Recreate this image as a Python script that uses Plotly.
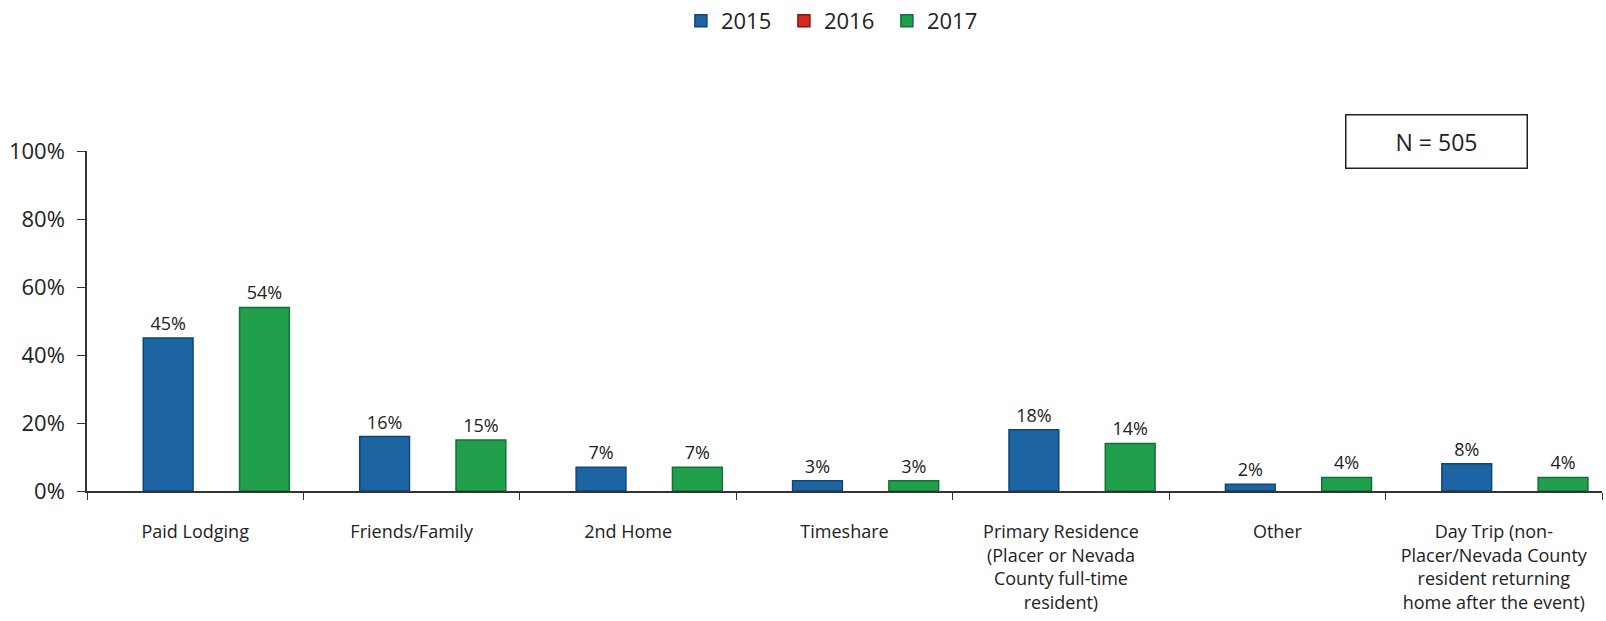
import plotly.graph_objects as go

categories = [
    "Paid Lodging",
    "Friends/Family",
    "2nd Home",
    "Timeshare",
    "Primary Residence<br>(Placer or Nevada<br>County full-time<br>resident)",
    "Other",
    "Day Trip (non-<br>Placer/Nevada County<br>resident returning<br>home after the event)",
]
values_2015 = [45, 16, 7, 3, 18, 2, 8]
values_2016 = [None, None, None, None, None, None, None]
values_2017 = [54, 15, 7, 3, 14, 4, 4]

# name, values, fill, edge, bar offset within category (category units)
series = [
    ("2015", values_2015, "#1C64A2", "#0F4677", -0.24),
    ("2016", values_2016, "#D42A1E", "#8E1410", -0.02),
    ("2017", values_2017, "#20A04A", "#12703A", 0.205),
]
BAR_WIDTH = 0.23

FONT = "Open Sans, Liberation Sans, sans-serif"

fig = go.Figure()
for name, vals, color, edge, off in series:
    fig.add_trace(go.Bar(
        name=name,
        x=categories,
        y=vals,
        width=BAR_WIDTH,
        offset=off,
        marker=dict(color=color, line=dict(color=edge, width=1.5)),
        text=[f"{v}%" if v is not None else "" for v in vals],
        textposition="outside",
        textfont=dict(size=18, color="#222222", family=FONT),
        cliponaxis=False,
    ))

fig.update_layout(
    width=1606,
    height=621,
    margin=dict(l=87, r=4, t=151, b=130),
    paper_bgcolor="white",
    plot_bgcolor="white",
    barmode="overlay",
    font=dict(family=FONT, color="#222222"),
    legend=dict(
        orientation="h",
        x=0.494, xanchor="center",
        y=1.0, yanchor="top",
        yref="container",
        font=dict(size=22, family=FONT),
        itemwidth=30,
        entrywidth=58,
        entrywidthmode="pixels",
        traceorder="normal",
    ),
    showlegend=True,
    xaxis=dict(
        showline=True,
        linecolor="#333333",
        linewidth=1.5,
        ticks="outside",
        tickson="boundaries",
        ticklen=7,
        tickcolor="#333333",
        tickfont=dict(size=18, family=FONT),
        ticklabelstandoff=24,
        showgrid=False,
    ),
    yaxis=dict(
        range=[0, 100],
        tickvals=[0, 20, 40, 60, 80, 100],
        ticktext=["0%", "20%", "40%", "60%", "80%", "100%"],
        showline=True,
        linecolor="#333333",
        linewidth=1.5,
        ticks="outside",
        ticklen=8,
        tickcolor="#333333",
        tickfont=dict(size=22, family=FONT),
        ticklabelstandoff=8,
        showgrid=False,
        zeroline=False,
    ),
    annotations=[dict(
        text="N = 505",
        xref="paper", yref="paper",
        x=0.891, y=1.029,
        xanchor="center", yanchor="middle",
        showarrow=False,
        font=dict(size=23, family=FONT, color="#222222"),
        bordercolor="#222222",
        borderwidth=1.5,
        borderpad=10,
        width=160,
        bgcolor="white",
    )],
)

fig.write_html("out.html")
